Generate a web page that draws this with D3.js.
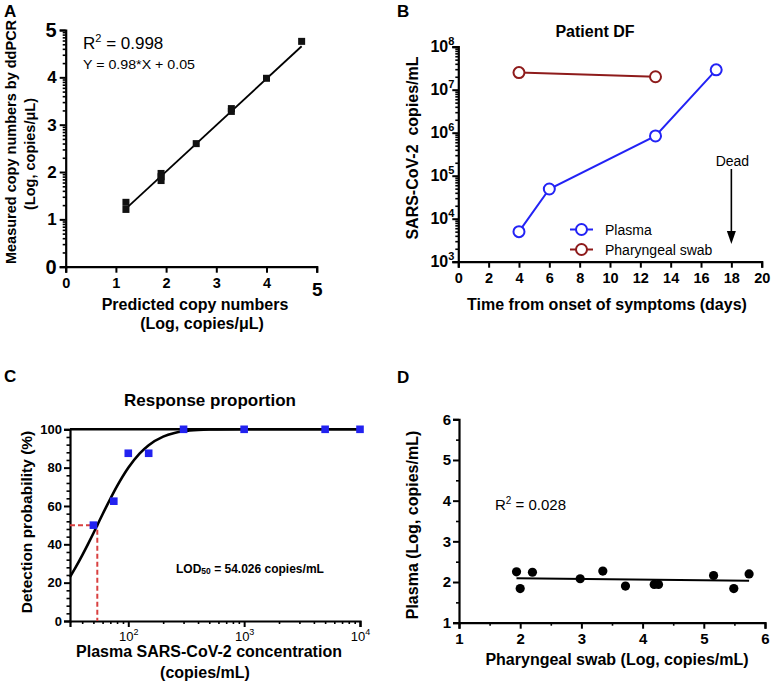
<!DOCTYPE html>
<html><head><meta charset="utf-8">
<script src="https://cdn.jsdelivr.net/npm/d3@7/dist/d3.min.js"></script>
<style>body{margin:0;background:#fff}svg{display:block;font-family:"Liberation Sans",Arial,sans-serif}</style>
</head><body><svg id="c" width="771" height="685"></svg>
<script>
// ---------- Data ----------
// Panel A
const aPredicted = [1.2, 1.2, 1.9, 1.9, 1.9, 2.6, 3.3, 3.3, 4.0, 4.7];
const aMeasured  = [1.36, 1.21, 1.97, 1.90, 1.82, 2.60, 3.34, 3.28, 3.98, 4.76];
const aFitX = [1.2, 4.7];
const aFitY = [1.226, 4.656];
const aTicks = [0, 1, 2, 3, 4, 5];
// Panel B
const bPlasmaDays = [4, 6, 13, 17];
const bPlasmaVals = [5.0e3, 4.9e4, 8.4e5, 2.9e7];
const bSwabDays = [4, 13];
const bSwabVals = [2.5e7, 2.0e7];
const bXTicks = [0, 2, 4, 6, 8, 10, 12, 14, 16, 18, 20];
const bYExps = [3, 4, 5, 6, 7, 8];
const bDeadDay = 18;
// Panel C
const cConc = [50, 75, 100, 150, 300, 1000, 5000, 10000];
const cProb = [50, 62.5, 87.5, 87.5, 100, 100, 100, 100];
const cCurveConc = [31.4, 35, 40, 45, 50, 54.026, 60, 70, 80, 100, 125, 150, 200, 250, 300, 400, 500, 1000, 10000];
const cCurveProb = [23, 27.8, 34.2, 40.2, 45.8, 50, 55.7, 63.7, 70.3, 79.9, 87.3, 91.7, 96.2, 98.1, 99.0, 99.7, 99.9, 100, 100];
const cLOD = 54.026;
const cYTicks = [0, 20, 40, 60, 80, 100];
const cXExps = [2, 3, 4];
// Panel D
const dSwab   = [1.94, 2.00, 2.20, 2.98, 3.35, 3.72, 4.19, 4.26, 5.16, 5.49, 5.74];
const dPlasma = [2.25, 1.84, 2.24, 2.08, 2.27, 1.90, 1.94, 1.94, 2.16, 1.84, 2.20];
const dFitX = [1.94, 5.74];
const dFitY = [2.095, 2.03];
const dTicks = [1, 2, 3, 4, 5, 6];

// ---------- Drawing ----------
const svg = d3.select("#c");
const F = '"Liberation Sans",Arial,sans-serif';

function styleAxis(g, fs, bold) {
  g.select(".domain").attr("stroke", "#000").attr("stroke-width", 2.2);
  g.selectAll(".tick line").attr("stroke", "#000").attr("stroke-width", 2);
  g.selectAll(".tick text").attr("fill", "#000").attr("font-size", fs).attr("font-weight", bold ? "bold" : "normal").attr("font-family", F);
  g.attr("font-family", F);
}
function minor(g, axisFn, scale, vals, size) {
  const m = g.append("g").attr("class", "minor").call(axisFn(scale).tickValues(vals).tickSize(size).tickFormat(""));
  m.select(".domain").remove();
  m.selectAll("text").remove();
  m.selectAll(".tick line").attr("stroke", "#000").attr("stroke-width", 1.6);
}
function text(x, y, s, o = {}) {
  const t = svg.append("text").attr("x", x).attr("y", y).text(s)
    .attr("font-size", o.fs || 14).attr("font-weight", o.bold ? "bold" : "normal")
    .attr("text-anchor", o.anchor || "start").attr("fill", o.fill || "#000");
  if (o.rot) t.attr("transform", `rotate(-90,${x},${y})`);
  return t;
}

// ===== Panel A =====
{
  const x = d3.scaleLinear().domain([0, 5]).range([65.7, 316.7]);
  const y = d3.scaleLinear().domain([0, 5]).range([266.7, 30]);
  const gx = svg.append("g").attr("transform", `translate(0,${y(0)})`);
  gx.call(d3.axisBottom(x).tickValues(aTicks).tickSize(6).tickPadding(5).tickFormat(d3.format("d")));
  styleAxis(gx, 14.5, true);
  gx.selectAll(".tick text").filter(d => d === 5).attr("font-size", 19).attr("dy", "0.95em");
  const gy = svg.append("g").attr("transform", `translate(${x(0)},0)`);
  gy.call(d3.axisLeft(y).tickValues(aTicks).tickSize(6).tickPadding(3).tickFormat(d3.format("d")));
  styleAxis(gy, 17, true);
  gy.selectAll(".tick text").filter(d => d === 0 || d === 5).attr("font-size", 20);
  const minA = [];
  for (let k = 0; k < 5; k++) for (let m = 2; m <= 9; m++) minA.push(k + Math.log10(m));
  minor(gy, d3.axisLeft, y, minA, 3);

  svg.append("line").attr("x1", x(aFitX[0])).attr("y1", y(aFitY[0])).attr("x2", x(aFitX[1])).attr("y2", y(aFitY[1]))
    .attr("stroke", "#000").attr("stroke-width", 1.8);
  svg.append("g").selectAll("rect").data(aPredicted.map((d, i) => [d, aMeasured[i]])).join("rect")
    .attr("x", d => x(d[0]) - 3.5).attr("y", d => y(d[1]) - 3.5).attr("width", 7).attr("height", 7).attr("fill", "#111");

  const r = text(83, 49, "R", { fs: 17 });
  r.append("tspan").text("2").attr("font-size", 11).attr("dy", -7);
  r.append("tspan").text(" = 0.998").attr("dy", 7);
  text(83, 69, "Y = 0.98*X + 0.05", { fs: 13.5 }).attr("textLength", 112).attr("lengthAdjust", "spacingAndGlyphs");

  text(195, 310, "Predicted copy numbers", { fs: 16, bold: true, anchor: "middle" });
  text(202, 329, "(Log, copies/μL)", { fs: 16, bold: true, anchor: "middle" });
  text(16, 142, "Measured copy numbers by ddPCR", { fs: 14.5, bold: true, anchor: "middle", rot: true });
  text(35, 154, "(Log, copies/μL)", { fs: 14.5, bold: true, anchor: "middle", rot: true });
  text(4, 17, "A", { fs: 17, bold: true });
}

// ===== Panel B =====
{
  const x = d3.scaleLinear().domain([0, 20]).range([458.3, 761.7]);
  const y = d3.scaleLog().domain([1e3, 1e8]).range([261.7, 46.7]);
  const gx = svg.append("g").attr("transform", `translate(0,${y(1e3)})`);
  gx.call(d3.axisBottom(x).tickValues(bXTicks).tickSize(6).tickPadding(5).tickFormat(d3.format("d")));
  styleAxis(gx, 14.5, true);
  const gy = svg.append("g").attr("transform", `translate(${x(0)},0)`);
  gy.call(d3.axisLeft(y).tickValues(bYExps.map(e => Math.pow(10, e))).tickSize(6).tickPadding(3).tickFormat(() => ""));
  styleAxis(gy, 16, true);
  gy.selectAll(".tick text").each(function (d) {
    const e = Math.round(Math.log10(d));
    const t = d3.select(this).attr("x", -4);
    t.append("tspan").text("10");
    t.append("tspan").text(e).attr("font-size", 11).attr("dy", -7);
  });
  const minB = [];
  for (let e = 3; e < 8; e++) for (let m = 2; m <= 9; m++) minB.push(m * Math.pow(10, e));
  minor(gy, d3.axisLeft, y, minB, 3);

  const line = d3.line().x(d => x(d[0])).y(d => y(d[1]));
  const plasma = bPlasmaDays.map((d, i) => [d, bPlasmaVals[i]]);
  const swab = bSwabDays.map((d, i) => [d, bSwabVals[i]]);
  const blue = "#2323f5", red = "#8e1b1b";
  svg.append("path").attr("d", line(swab)).attr("fill", "none").attr("stroke", red).attr("stroke-width", 2);
  svg.append("g").selectAll("circle").data(swab).join("circle").attr("cx", d => x(d[0])).attr("cy", d => y(d[1])).attr("r", 5.5)
    .attr("fill", "#fff").attr("stroke", red).attr("stroke-width", 2);
  svg.append("path").attr("d", line(plasma)).attr("fill", "none").attr("stroke", blue).attr("stroke-width", 2);
  svg.append("g").selectAll("circle").data(plasma).join("circle").attr("cx", d => x(d[0])).attr("cy", d => y(d[1])).attr("r", 5.5)
    .attr("fill", "#fff").attr("stroke", blue).attr("stroke-width", 2);

  // Dead arrow
  const ax = x(bDeadDay);
  svg.append("line").attr("x1", ax).attr("x2", ax).attr("y1", 169).attr("y2", 233).attr("stroke", "#000").attr("stroke-width", 1.6);
  svg.append("path").attr("d", `M${ax - 4.5},231 L${ax + 4.5},231 L${ax},244 Z`).attr("fill", "#000");
  text(ax + 1, 166, "Dead", { fs: 14, anchor: "middle" });

  // Legend
  [[blue, "Plasma", 229.5], [red, "Pharyngeal swab", 249.5]].forEach(([c, s, ly]) => {
    svg.append("line").attr("x1", 570).attr("x2", 593).attr("y1", ly).attr("y2", ly).attr("stroke", c).attr("stroke-width", 2);
    svg.append("circle").attr("cx", 581.5).attr("cy", ly).attr("r", 5.5).attr("fill", "#fff").attr("stroke", c).attr("stroke-width", 2);
    text(605, ly + 5, s, { fs: 14 });
  });

  text(595, 37, "Patient DF", { fs: 16, bold: true, anchor: "middle" });
  text(607, 310, "Time from onset of symptoms (days)", { fs: 16, bold: true, anchor: "middle" });
  text(418, 148, "SARS-CoV-2  copies/mL", { fs: 16, bold: true, anchor: "middle", rot: true }).style("white-space", "pre");
  text(397, 17, "B", { fs: 17, bold: true });
}

// ===== Panel C =====
{
  const x = d3.scaleLog().domain([31.4, 1e4]).range([70, 360]);
  const y = d3.scaleLinear().domain([0, 100]).range([621, 429.3]);
  const gx = svg.append("g").attr("transform", `translate(0,${y(0)})`);
  gx.call(d3.axisBottom(x).tickValues(cXExps.map(e => Math.pow(10, e))).tickSize(6).tickPadding(4).tickFormat(() => ""));
  styleAxis(gx, 13, false);
  gx.selectAll(".tick text").each(function (d) {
    const e = Math.round(Math.log10(d));
    const t = d3.select(this).attr("y", 11);
    t.append("tspan").text("10");
    t.append("tspan").text(e).attr("font-size", 9).attr("dy", -6);
  });
  const minC = [];
  for (let e = 1; e < 4; e++) for (let m = 2; m <= 9; m++) { const v = m * Math.pow(10, e); if (v > 31.4) minC.push(v); }
  minor(gx, d3.axisBottom, x, minC, 3);
  const gy = svg.append("g").attr("transform", `translate(${x(31.4)},0)`);
  gy.call(d3.axisLeft(y).tickValues(cYTicks).tickSize(6).tickPadding(2).tickFormat(d3.format("d")));
  styleAxis(gy, 13, true);
  const minCy = d3.range(0, 100, 4).filter(v => v % 20 !== 0);
  minor(gy, d3.axisLeft, y, minCy, 3.5);

  // top line at 100
  svg.append("line").attr("x1", x(31.4)).attr("x2", x(1e4)).attr("y1", y(100)).attr("y2", y(100)).attr("stroke", "#000").attr("stroke-width", 2.6);
  // LOD dashes
  const red = "#d94040";
  svg.append("path").attr("d", `M${x(31.4)},${y(50)} H${x(cLOD)} V${y(0)}`).attr("fill", "none")
    .attr("stroke", red).attr("stroke-width", 2).attr("stroke-dasharray", "5,3");
  // curve
  const line = d3.line().x(d => x(d[0])).y(d => y(d[1])).curve(d3.curveMonotoneX);
  svg.append("path").attr("d", line(cCurveConc.map((d, i) => [d, cCurveProb[i]]))).attr("fill", "none").attr("stroke", "#000").attr("stroke-width", 2.6);
  // points
  svg.append("g").selectAll("rect").data(cConc.map((d, i) => [d, cProb[i]])).join("rect")
    .attr("x", d => x(d[0]) - 3.8).attr("y", d => y(d[1]) - 3.8).attr("width", 7.6).attr("height", 7.6).attr("fill", "#2222f0");

  const t = text(176, 573, "LOD", { fs: 12, bold: true });
  t.append("tspan").text("50").attr("font-size", 8.5).attr("dy", 1);
  t.append("tspan").text(" = 54.026 copies/mL").attr("dy", -1);

  text(210, 406, "Response proportion", { fs: 17, bold: true, anchor: "middle" });
  text(209, 657, "Plasma SARS-CoV-2 concentration", { fs: 16, bold: true, anchor: "middle" });
  text(205, 678, "(copies/mL)", { fs: 16, bold: true, anchor: "middle" });
  text(32, 522, "Detection probability (%)", { fs: 15.5, bold: true, anchor: "middle", rot: true });
  text(4, 382, "C", { fs: 17, bold: true });
}

// ===== Panel D =====
{
  const x = d3.scaleLinear().domain([1, 6]).range([459, 765]);
  const y = d3.scaleLinear().domain([1, 6]).range([622.7, 419.3]);
  const gx = svg.append("g").attr("transform", `translate(0,${y(1)})`);
  gx.call(d3.axisBottom(x).tickValues(dTicks).tickSize(6).tickPadding(5).tickFormat(d3.format("d")));
  styleAxis(gx, 15, true);
  minor(gx, d3.axisBottom, x, [1.5, 2.5, 3.5, 4.5, 5.5], 3);
  const gy = svg.append("g").attr("transform", `translate(${x(1)},0)`);
  gy.call(d3.axisLeft(y).tickValues(dTicks).tickSize(6).tickPadding(2).tickFormat(d3.format("d")));
  styleAxis(gy, 15, true);
  minor(gy, d3.axisLeft, y, [1.5, 2.5, 3.5, 4.5, 5.5], 3);

  svg.append("line").attr("x1", x(dFitX[0])).attr("y1", y(dFitY[0])).attr("x2", x(dFitX[1])).attr("y2", y(dFitY[1]))
    .attr("stroke", "#000").attr("stroke-width", 2);
  svg.append("g").selectAll("circle").data(dSwab.map((d, i) => [d, dPlasma[i]])).join("circle")
    .attr("cx", d => x(d[0])).attr("cy", d => y(d[1])).attr("r", 4.6).attr("fill", "#000");

  const r = text(495, 510, "R", { fs: 15 });
  r.append("tspan").text("2").attr("font-size", 10).attr("dy", -6);
  r.append("tspan").text(" = 0.028").attr("dy", 6);

  text(617, 665, "Pharyngeal swab (Log, copies/mL)", { fs: 16, bold: true, anchor: "middle" });
  text(418, 525, "Plasma (Log, copies/mL)", { fs: 16, bold: true, anchor: "middle", rot: true });
  text(397, 383, "D", { fs: 17, bold: true });
}
</script></body></html>
